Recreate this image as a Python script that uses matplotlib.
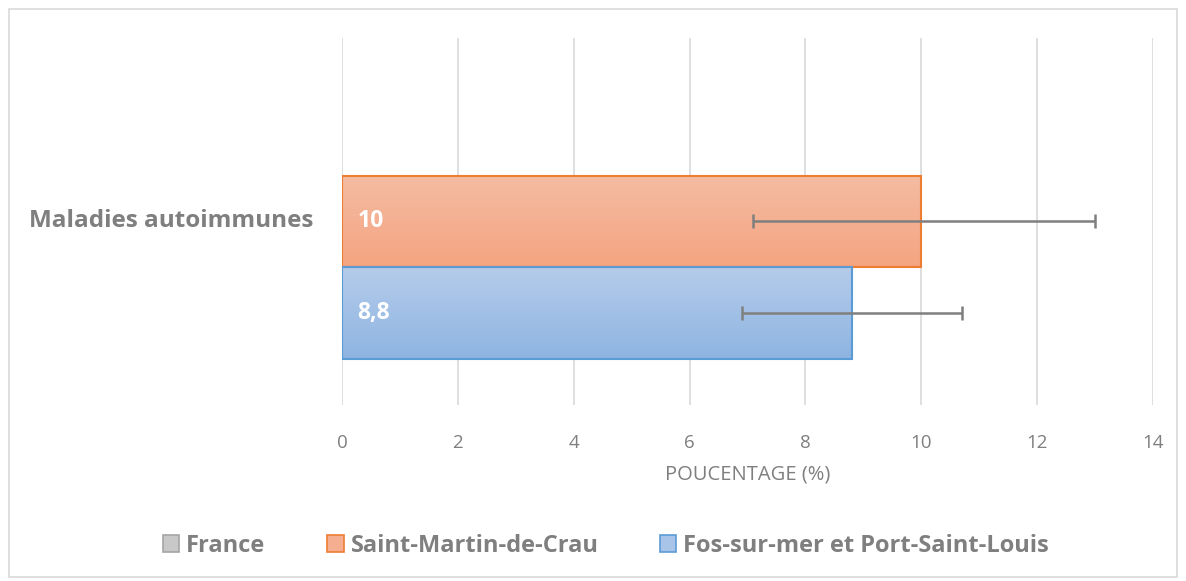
# Maladies autoimmunes - horizontal bars with error bars
import matplotlib.pyplot as plt
from matplotlib.patches import Rectangle, Patch
import numpy as np

# Data
category = 'Maladies autoimmunes'
series = ['France', 'Saint-Martin-de-Crau', 'Fos-sur-mer et Port-Saint-Louis']
values = [np.nan, 10, 8.8]
err_low = [np.nan, 7.1, 6.9]
err_high = [np.nan, 13.0, 10.7]
value_labels = ['', '10', '8,8']
xticks = [0, 2, 4, 6, 8, 10, 12, 14]

face = ['#C8C8C8', '#F5AE90', '#A8C4E8']
grad_top = [(0.82, 0.82, 0.82), (0.961, 0.737, 0.635), (0.710, 0.800, 0.918)]
grad_bot = [(0.70, 0.70, 0.70), (0.957, 0.643, 0.506), (0.557, 0.706, 0.886)]
edge = ['#A5A5A5', '#ED7D31', '#5B9BD5']
grey = '#7F7F7F'

plt.rcParams['font.family'] = ['Open Sans', 'DejaVu Sans']

fig = plt.figure(figsize=(11.86, 5.81), dpi=100)
fig.patches.append(Rectangle((9 / 1186, 4 / 581), 1168 / 1186, 568 / 581,
                             transform=fig.transFigure, fill=False,
                             edgecolor='#D9D9D9', linewidth=1.2))

ax = fig.add_axes([342 / 1186, 1 - 405 / 581, 811 / 1186, 367 / 581])
ypos = [1, 0, -1]

for i in range(3):
    v = values[i]
    if np.isnan(v):
        continue
    y0 = ypos[i] - 0.5
    # gradient fill clipped to bar
    grad = np.linspace(0, 1, 100)
    img = np.zeros((100, 1, 3))
    for c in range(3):
        img[:, 0, c] = grad_top[i][c] + (grad_bot[i][c] - grad_top[i][c]) * grad
    im = ax.imshow(img, extent=(0, v, y0, y0 + 1), origin='upper',
                   aspect='auto', zorder=2)
    rect = Rectangle((0, y0), v, 1, facecolor='none', edgecolor=edge[i],
                     linewidth=1.5, zorder=3)
    ax.add_patch(rect)
    im.set_clip_path(rect)
    ax.errorbar(v, ypos[i],
                xerr=[[v - err_low[i]], [err_high[i] - v]],
                fmt='none', ecolor='#7F7F7F', elinewidth=1.8,
                capsize=5, capthick=1.8, zorder=4)
    ax.text(0.27, ypos[i], value_labels[i], color='white', fontsize=16.5,
            fontweight='bold', va='center', ha='left', zorder=5)

ax.set_xlim(0, 14)
ax.set_ylim(-1.995, 1.995)
ax.set_xticks(xticks)
ax.set_xticklabels([str(t) for t in xticks], color=grey, fontsize=13.5)
ax.set_yticks([])
ax.tick_params(axis='x', length=0, pad=21)
ax.grid(True, axis='x', color='#D9D9D9', linewidth=1.2, zorder=0)
ax.set_axisbelow(True)
for s in ax.spines.values():
    s.set_visible(False)
ax.set_xlabel('POUCENTAGE (%)', color=grey, fontsize=14.5, labelpad=9)

fig.text(313 / 1186, 1 - 221 / 581, category, color=grey, fontsize=17.5,
         fontweight='bold', ha='right', va='center')

handles = [Patch(facecolor=face[i], edgecolor=edge[i], linewidth=1.2)
           for i in range(3)]
fig.legend(handles, series, loc='center', bbox_to_anchor=(606 / 1186, 1 - 546 / 581),
           ncol=3, frameon=False, prop={'weight': 'bold', 'size': 17},
           labelcolor=grey, handlelength=0.7, handleheight=0.7,
           handletextpad=0.3, columnspacing=2.6)

plt.savefig('out.png', dpi=100)
